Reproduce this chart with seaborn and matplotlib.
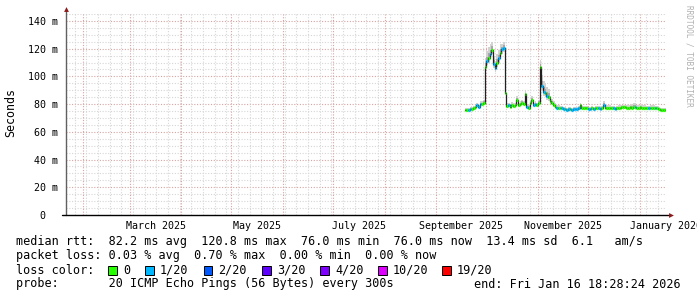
import matplotlib
matplotlib.use("Agg")
import matplotlib.pyplot as plt
import matplotlib.dates as mdates
import matplotlib.transforms as mtransforms
from matplotlib.patches import Rectangle
import numpy as np
import pandas as pd
import seaborn as sns

# ---------------- data ----------------
view_start = "2025-01-21 18:28:24"
end_time = "2026-01-16 18:28:24"
first_day = "2025-09-18"

median_ms = [
    76.0, 76.0, 76.0, 76.5, 76.5, 77.0, 78.0, 79.0, 78.0, 80.0, 80.0, 81.0,
    107.0, 111.0, 113.0, 116.0, 119.0, 109.0, 106.0, 110.0, 113.0, 117.0, 119.5, 120.8,
    88.0, 78.5, 79.0, 78.0, 79.5, 78.5, 79.0, 83.0, 79.0, 80.0, 81.0, 80.0, 87.0, 78.0,
    77.5, 80.5, 83.0, 79.0, 80.0, 79.0, 81.0,
    107.0, 93.0, 89.0, 88.0, 86.0, 85.0, 82.0, 81.0, 79.0, 78.0,
    77.5, 77.5, 77.0, 77.0, 76.5, 76.5, 76.0, 76.5, 76.5, 76.0, 76.5, 76.5, 76.5, 77.0, 79.5, 77.0,
    77.0, 77.0, 77.0, 76.5, 76.5, 77.0, 76.5, 77.0, 77.0, 77.0, 76.5, 77.0, 79.5, 77.5,
    77.5, 77.5, 77.5, 77.0, 77.0, 76.5, 77.0, 77.5, 77.5, 78.0, 78.0, 78.0, 77.5, 77.5, 78.0, 77.5,
    78.0, 78.0, 77.5, 77.5, 78.0, 77.5, 77.5, 77.5, 77.0, 77.0, 77.5, 77.0, 77.5, 77.0, 77.0, 76.5,
    76.0, 76.0, 76.0, 76.0,
]

loss_code = [
    0, 0, 1, 1, 0, 0, 0, 1, 1, 1, 0, 0,
    0, 1, 0, 1, 0, 1, 1, 0, 1, 0, 1, 1,
    0, 0, 1, 0, 0, 0, 0, 0, 0, 0, 0, 0, 0, 1, 0, 0, 0, 1, 1, 0, 0,
    0, 1, 1, 0, 1, 0, 0, 0, 0, 0,
    1, 0, 0, 1, 1, 0, 1, 1, 0, 1, 1, 1, 1, 1, 0, 0,
    0, 0, 0, 1, 1, 0, 1, 0, 0, 1, 1, 0, 1, 0,
    0, 0, 0, 0, 1, 1, 0, 0, 0, 0, 0, 0, 0, 0, 0, 0, 0, 1, 0, 0, 0, 0, 0, 0,
    0, 1, 0, 0, 0, 1, 0, 0, 0, 0, 0, 0,
]

smoke_up = [
    1.5, 1.5, 1.5, 1.5, 1.5, 1.5, 1.5, 1.5, 1.5, 2.0, 2.0, 2.0,
    6.0, 7.0, 8.0, 7.0, 6.0, 6.0, 5.0, 6.0, 6.0, 6.0, 4.0, 4.0,
    4.0, 2.0, 2.0, 2.0, 2.0, 2.0, 2.0, 3.0, 2.0, 2.0, 2.0, 2.0, 3.0, 2.0, 2.0, 2.0, 3.0, 2.0,
    2.0, 2.0, 2.0,
    5.0, 8.0, 8.0, 7.0, 6.0, 6.0, 4.0, 3.0, 3.0, 3.0,
    1.5, 1.5, 1.5, 1.5, 1.5, 1.5, 1.5, 1.5, 1.5, 1.5, 1.5, 1.5, 1.5, 1.5, 1.5, 1.5,
    1.5, 1.5, 1.5, 1.5, 1.5, 1.5, 1.5, 1.5, 1.5, 1.5, 1.5, 1.5, 2.5, 1.5,
    1.5, 1.5, 1.5, 1.5, 1.5, 1.5, 1.5, 1.5, 1.5, 1.5, 1.5, 1.5, 1.5, 1.5, 1.5, 2.5,
    2.5, 2.5, 1.5, 1.5, 1.5, 1.5, 1.5, 1.5, 1.5, 1.5, 1.5, 2.0, 1.5, 1.5, 1.5, 1.5,
    1.5, 1.5, 1.5, 1.5,
]

smoke_dn = [
    0.5, 0.5, 0.5, 0.5, 0.5, 0.5, 0.5, 0.5, 0.5, 0.5, 0.5, 0.5,
    3.0, 3.0, 3.0, 3.0, 3.0, 3.0, 3.0, 3.0, 3.0, 3.0, 3.0, 3.0,
    1.0, 1.0, 1.0, 1.0, 1.0, 1.0, 1.0, 1.0, 1.0, 1.0, 1.0, 1.0, 1.0, 1.0, 1.0, 1.0, 1.0, 1.0,
    1.0, 1.0, 1.0,
    1.0, 3.0, 3.0, 3.0, 3.0, 3.0, 2.0, 1.0, 1.0, 1.0,
    0.5, 0.5, 0.5, 0.5, 0.5, 0.5, 0.5, 0.5, 0.5, 0.5, 0.5, 0.5, 0.5, 0.5, 0.5, 0.5,
    0.5, 0.5, 0.5, 0.5, 0.5, 0.5, 0.5, 0.5, 0.5, 0.5, 0.5, 0.5, 0.5, 0.5,
    0.5, 0.5, 0.5, 0.5, 0.5, 0.5, 0.5, 0.5, 0.5, 0.5, 0.5, 0.5, 0.5, 0.5, 0.5, 0.5,
    0.5, 0.5, 0.5, 0.5, 0.5, 0.5, 0.5, 0.5, 0.5, 0.5, 0.5, 0.5, 0.5, 0.5, 0.5, 0.5,
    0.5, 0.5, 0.5, 0.5,
]

y_ticks = [0, 20, 40, 60, 80, 100, 120, 140]
y_tick_labels = ["0", "20 m", "40 m", "60 m", "80 m", "100 m", "120 m", "140 m"]
month_labels = ["March 2025", "May 2025", "July 2025", "September 2025",
                "November 2025", "January 2026"]
month_label_months = ["2025-03-01", "2025-05-01", "2025-07-01", "2025-09-01",
                      "2025-11-01", "2026-01-01"]
loss_names = ["0", "1/20", "2/20", "3/20", "4/20", "10/20", "19/20"]
loss_colors = ["#26ff00", "#00b8ff", "#0059ff", "#5e00ff", "#7e00ff", "#dd00ff", "#ff0000"]

legend_rows = [
    "median rtt:  82.2 ms avg  120.8 ms max  76.0 ms min  76.0 ms now  13.4 ms sd  6.1   am/s",
    "packet loss: 0.03 % avg  0.70 % max  0.00 % min  0.00 % now",
    "loss color:",
    "probe:       20 ICMP Echo Pings (56 Bytes) every 300s",
]
end_label = "end: Fri Jan 16 18:28:24 2026"
watermark = "RRDTOOL / TOBI OETIKER"

# ---------------- figure ----------------
sns.set_style("white")
plt.rcParams["font.family"] = ["DejaVu Sans Mono", "DejaVu Sans"]

W, H = 697, 297
fig = plt.figure(figsize=(W / 100, H / 100), dpi=100, facecolor="white")
ax = fig.add_axes([66 / W, (H - 215) / H, 600 / W, 201 / H])
ax.set_facecolor("white")

x0 = mdates.date2num(pd.Timestamp(view_start))
x1 = mdates.date2num(pd.Timestamp(end_time))
ax.set_xlim(x0, x1)
ax.set_ylim(0, 145)

days = pd.date_range(first_day, periods=len(median_ms), freq="D")
edges = np.array([mdates.date2num(d) for d in days] + [x1])
med = np.array(median_ms)
med_ext = np.append(med, med[-1])
hi = med + np.array(smoke_up)
lo = med - np.array(smoke_dn)
hi_ext = np.append(hi, hi[-1])
lo_ext = np.append(lo, lo[-1])
mid_hi = med + 0.45 * np.array(smoke_up)
mid_lo = med - 0.45 * np.array(smoke_dn)

# grid
GRID = "#d6d6d6"
MGRID = "#d9a3a3"
for yv in range(5, 146, 5):
    major = (yv % 20 == 0)
    ax.axhline(yv, color=MGRID if major else GRID, lw=0.8, ls=(0, (1, 1.5)), zorder=0)
weeks = pd.date_range("2025-01-27", "2026-01-16", freq="W-MON")
months = pd.date_range("2025-02-01", "2026-01-01", freq="MS")
for w in weeks:
    if w.day != 1:
        ax.axvline(mdates.date2num(w), color=GRID, lw=0.8, ls=(0, (1, 1.5)), zorder=0)
for m in months:
    ax.axvline(mdates.date2num(m), color=MGRID, lw=0.8, ls=(0, (1, 1.5)), zorder=0)

# smoke
ax.fill_between(edges, lo_ext, hi_ext, step="post", color="#d2d2d2", lw=0, zorder=1)
ax.fill_between(edges, np.append(mid_lo, mid_lo[-1]), np.append(mid_hi, mid_hi[-1]),
                step="post", color="#a8a8a8", lw=0, zorder=1)

# median line (seaborn)
df = pd.DataFrame({"t": edges, "median": med_ext})
sns.lineplot(data=df, x="t", y="median", estimator=None, drawstyle="steps-post",
             color="#202020", lw=0.9, ax=ax, zorder=2)

# loss-coloured median boxes
for code in sorted(set(loss_code)):
    idx = [i for i, c in enumerate(loss_code) if c == code]
    ax.hlines(med[idx], edges[idx], edges[np.array(idx) + 1], colors=loss_colors[code],
              lw=2.3, zorder=3, capstyle="butt")

# axes / ticks
for s in ax.spines.values():
    s.set_visible(False)
ax.set_xlabel("")
ax.set_ylabel("")

ax.set_yticks(y_ticks)
ax.set_yticklabels(y_tick_labels)
ax.tick_params(axis="y", length=2.5, width=0.8, color="#909090", pad=3.5,
               labelsize=7.2, labelcolor="#000000")
lbl0 = ax.get_yticklabels()[0]
lbl0.set_transform(lbl0.get_transform() +
                   mtransforms.ScaledTranslation(-0.12, 0, fig.dpi_scale_trans))

ax.set_xticks([mdates.date2num(m) for m in months])
ax.set_xticklabels([""] * len(months))
ax.tick_params(axis="x", which="major", length=2.5, width=0.8, color="#c06060")
mids = []
for m in month_label_months:
    a = pd.Timestamp(m)
    b = a + pd.offsets.MonthBegin(1)
    mids.append((mdates.date2num(a) + mdates.date2num(b)) / 2)
ax.set_xticks(mids, minor=True)
ax.set_xticklabels(month_labels, minor=True)
ax.tick_params(axis="x", which="minor", length=0, pad=4.5, labelsize=7.2,
               labelcolor="#000000")

# axis lines with arrows
ax.plot([0, 0], [0, 1.02], transform=ax.transAxes, color="#606060", lw=1.0,
        clip_on=False, zorder=5)
ax.plot([-4 / 600, 1.005], [0, 0], transform=ax.transAxes, color="#000000", lw=1.0,
        clip_on=False, zorder=5)
ax.plot([0], [1.025], marker="^", ms=3.5, color="#8b1a1a", transform=ax.transAxes,
        clip_on=False, zorder=6, mew=0)
ax.plot([1.008], [0], marker=">", ms=3.5, color="#8b1a1a", transform=ax.transAxes,
        clip_on=False, zorder=6, mew=0)

# y label
fig.text(11 / W, 1 - 113 / H, "Seconds", rotation=90, ha="center", va="center",
         fontsize=8.4, color="#000000")

# watermark
fig.text(689 / W, 1 - 5 / H, watermark, rotation=270, ha="center", va="top",
         fontsize=5.6, color="#b0b0b0")

# legend rows
row_y = [241, 256, 270, 284]
for txt, yy in zip(legend_rows, row_y):
    fig.text(16 / W, 1 - yy / H, txt, ha="left", va="center", fontsize=8.5,
             color="#000000")
fig.text(681 / W, 1 - 284 / H, end_label, ha="right", va="center", fontsize=8.5,
         color="#000000")

box_x = [108, 145, 203.5, 262, 320, 378, 442]
text_x = [123, 160, 218.5, 277, 335, 393, 457]
for bx, tx, name, col in zip(box_x, text_x, loss_names, loss_colors):
    fig.add_artist(Rectangle((bx / W, 1 - (270 + 4.5) / H), 8.5 / W, 9 / H,
                             transform=fig.transFigure, facecolor=col,
                             edgecolor="#000000", lw=0.7))
    fig.text(tx / W, 1 - 270 / H, name, ha="left", va="center", fontsize=8.5,
             color="#000000")

fig.savefig("out.png", dpi=100, facecolor="white")
